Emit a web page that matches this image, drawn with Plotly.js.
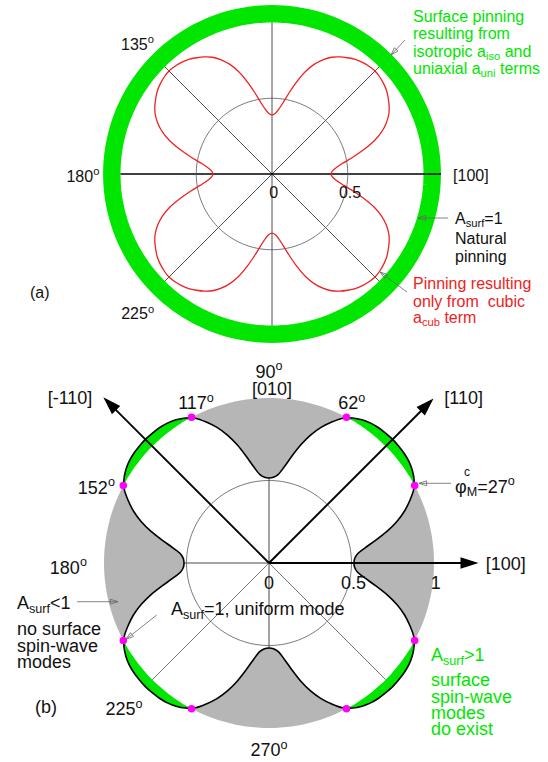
<!DOCTYPE html>
<html>
<head>
<meta charset="utf-8">
<script src="https://cdn.plot.ly/plotly-3.0.1.min.js"></script>
<style>html,body{margin:0;padding:0;background:#fff}#chart{width:548px;height:762px}</style>
</head>
<body>
<div id="chart"></div>
<script>
// ---------------- DATA ----------------
// Angles of one quadrant (degrees); the patterns have four-fold symmetry
const quadTheta = [0,3,6,9,12,15,18,21,24,27,30,33,36,39,42,45,48,51,54,57,60,63,66,69,72,75,78,81,84,87,90];
// (a) pinning resulting only from cubic a_cub term (red curve)
const cubicPinningR = [0.39,0.40,0.43,0.48,0.55,0.63,0.71,0.775,0.825,0.865,0.893,0.915,0.935,0.948,0.957,0.962,
                       0.957,0.948,0.935,0.915,0.893,0.865,0.825,0.775,0.71,0.63,0.55,0.48,0.43,0.40,0.39];
// (b) surface pinning parameter A_surf (black curve)
const aSurfR = [0.515,0.52,0.54,0.59,0.66,0.74,0.815,0.88,0.935,0.985,1.015,1.035,1.048,1.055,1.058,1.06,
                1.058,1.055,1.048,1.035,1.015,0.985,0.935,0.88,0.815,0.74,0.66,0.59,0.54,0.52,0.515];
// (b) angles where A_surf = 1 (magenta points)
const crossingTheta = [28,62,118,152,208,242,298,332];
// natural pinning level and ring of isotropic + uniaxial pinning in (a)
const naturalPinning = 1;
const ringOuter = 1.115;
// crystal directions in (b)
const dirLabels = ['[100]','[110]','[-110]'];
const dirTheta = [0,45,135];
const dirLength = [1.27,1.41,1.42];

// ---------------- GEOMETRY ----------------
const W = 548, H = 762;
const A = {cx: 272, cy: 174, unit: 151.5};
const B = {cx: 269, cy: 563, unit: 165};
const deg = Math.PI/180;
const X = (r,t) => r*Math.cos(t*deg);
const Y = (r,t) => r*Math.sin(t*deg);
function fullTurn(vals){
  const th=[], rr=[];
  for(let q=0;q<4;q++) for(let i=0;i<quadTheta.length-1;i++){th.push(q*90+quadTheta[i]); rr.push(vals[i]);}
  th.push(360); rr.push(vals[0]);
  return {th, rr};
}
function cart(th, rr){ return {x: rr.map((r,i)=>X(r,th[i])), y: rr.map((r,i)=>Y(r,th[i]))}; }
function circle(r){ const x=[],y=[]; for(let t=0;t<=360;t+=2){x.push(X(r,t));y.push(Y(r,t));} return {x,y}; }
function segs(list){ const x=[],y=[]; list.forEach(s=>{x.push(X(s[0],s[1]),X(s[2],s[3]),null);y.push(Y(s[0],s[1]),Y(s[2],s[3]),null);}); return {x,y}; }
const FONT = 'Liberation Sans, Arial, Helvetica, sans-serif';
const GREEN = '#00e600', RED = '#ee2222';

const traces = [];
// ---------- panel (a) ----------
const ringMid = (naturalPinning+ringOuter)/2;
const ring = circle(ringMid);
traces.push({type:'scatter', mode:'lines', x:ring.x, y:ring.y, xaxis:'x', yaxis:'y',
  line:{color:GREEN, width:(ringOuter-naturalPinning)*A.unit, simplify:false}, hoverinfo:'skip'});
const spA = segs([[naturalPinning,90,naturalPinning,270],[naturalPinning,45,naturalPinning,225],[naturalPinning,135,naturalPinning,315]]);
traces.push({type:'scatter', mode:'lines', x:spA.x, y:spA.y, xaxis:'x', yaxis:'y', line:{color:'#222', width:0.8}});
const hA = segs([[naturalPinning,180,ringOuter,0]]);
traces.push({type:'scatter', mode:'lines', x:hA.x, y:hA.y, xaxis:'x', yaxis:'y', line:{color:'#000', width:1.3}});
const cA = circle(0.5);
traces.push({type:'scatter', mode:'lines', x:cA.x, y:cA.y, xaxis:'x', yaxis:'y', line:{color:'#555', width:0.8, simplify:false}});
const red = fullTurn(cubicPinningR); const redXY = cart(red.th, red.rr);
traces.push({type:'scatter', mode:'lines', x:redXY.x, y:redXY.y, xaxis:'x', yaxis:'y',
  line:{color:RED, width:1.3, shape:'spline', smoothing:0.8, simplify:false}});
// labels (a): [r, theta, text, extra downward shift in px]
const labA = [[1.245,135.5,'135<sup>o</sup>',4],[1.248,180,'180<sup>o</sup>',4],[1.254,225,'225<sup>o</sup>',7],
              [1.313,0,'[100]',3],[0.111,-84,'0',3],[0.527,-12.1,'0.5',3]];
traces.push({type:'scatter', mode:'text', xaxis:'x', yaxis:'y',
  x: labA.map(l=>X(l[0],l[1])), y: labA.map(l=>Y(l[0],l[1])-l[3]/A.unit), text: labA.map(l=>l[2]),
  textposition:'middle center', textfont:{family:FONT, size:16, color:'#111'}});

// ---------- panel (b) ----------
const disc = circle(1);
traces.push({type:'scatter', mode:'lines', x:disc.x, y:disc.y, xaxis:'x2', yaxis:'y2', fill:'toself',
  fillcolor:'#b6b6b6', line:{width:0, color:'#b6b6b6', simplify:false}});
const blk = fullTurn(aSurfR); const blkXY = cart(blk.th, blk.rr);
traces.push({type:'scatter', mode:'lines', x:blkXY.x, y:blkXY.y, xaxis:'x2', yaxis:'y2', fill:'toself',
  fillcolor:GREEN, line:{width:0, color:GREEN, shape:'spline', smoothing:0.8, simplify:false}});
const inner = cart(blk.th, blk.rr.map(r=>Math.min(r,1)));
traces.push({type:'scatter', mode:'lines', x:inner.x, y:inner.y, xaxis:'x2', yaxis:'y2', fill:'toself',
  fillcolor:'#ffffff', line:{width:0, color:'#ffffff', shape:'spline', smoothing:0.8, simplify:false}});
const rEnd = t => Math.min(aSurfR[quadTheta.indexOf(((t%90)+90)%90)], 1);
const spB1 = segs([[0,180,rEnd(180),180],[rEnd(90),90,rEnd(270),270]]);
traces.push({type:'scatter', mode:'lines', x:spB1.x, y:spB1.y, xaxis:'x2', yaxis:'y2', line:{color:'#333', width:0.9}});
const spB2 = segs([[0,225,rEnd(225),225],[0,315,rEnd(315),315]]);
traces.push({type:'scatter', mode:'lines', x:spB2.x, y:spB2.y, xaxis:'x2', yaxis:'y2', line:{color:'#666', width:0.9}});
const cB = circle(0.5);
traces.push({type:'scatter', mode:'lines', x:cB.x, y:cB.y, xaxis:'x2', yaxis:'y2', line:{color:'#555', width:0.8, simplify:false}});
traces.push({type:'scatter', mode:'lines', x:blkXY.x, y:blkXY.y, xaxis:'x2', yaxis:'y2',
  line:{color:'#000', width:1.6, shape:'spline', smoothing:0.8, simplify:false}});
// crystal direction arrows
const arr = segs(dirTheta.map((t,i)=>[0,t,dirLength[i]-0.03,t]));
traces.push({type:'scatter', mode:'lines', x:arr.x, y:arr.y, xaxis:'x2', yaxis:'y2', line:{color:'#000', width:1.9}});
traces.push({type:'scatter', mode:'markers', xaxis:'x2', yaxis:'y2',
  x: dirTheta.map((t,i)=>X(dirLength[i],t)), y: dirTheta.map((t,i)=>Y(dirLength[i],t)),
  marker:{symbol:'arrow', size:19, color:'#000', angle: dirTheta.map(t=>90-t), line:{width:0}}});
// A_surf = 1 points
traces.push({type:'scatter', mode:'markers', xaxis:'x2', yaxis:'y2',
  x: crossingTheta.map(t=>X(1,t)), y: crossingTheta.map(t=>Y(1,t)),
  marker:{size:7.5, color:'#ff00ff', line:{width:0}}});
// labels (b): [r, theta, text, extra downward shift in px]
const labB = [[1.21,90,'90<sup>o</sup>',10],[1.079,89,'[010]',6],[1.079,114.2,'117<sup>o</sup>',4],[1.104,63,'62<sup>o</sup>',4],
  [1.572,140.1,dirLabels[2],3],[1.552,40.5,dirLabels[1],3],[1.148,155.7,'152<sup>o</sup>',4],[1.216,180.6,'180<sup>o</sup>',4],
  [1.435,0,dirLabels[0],2],[0.113,-90,'0',3],[0.524,-12.5,'0.5',3],[1.017,-6.4,'1',3],[1.237,224.7,'225<sup>o</sup>',4],[1.113,270,'270<sup>o</sup>',5]];
traces.push({type:'scatter', mode:'text', xaxis:'x2', yaxis:'y2',
  x: labB.map(l=>X(l[0],l[1])), y: labB.map(l=>Y(l[0],l[1])-l[3]/B.unit), text: labB.map(l=>l[2]),
  textposition:'middle center', textfont:{family:FONT, size:18, color:'#111'}});

// pointer arrows (pixel positions tail -> head), drawn on the full-page axes of (b)
const pointers = [[405,40,391,55],[448,218,418,218],[407,292,380,272],
                  [451,483.3,419,483.3],[77,601.7,118,601.7],[156.7,615,126,639.3]];
const dx = p => (p - B.cx)/B.unit, dy = p => (B.cy - p)/B.unit;
const pl = {x:[], y:[]};
pointers.forEach(p=>{pl.x.push(dx(p[0]),dx(p[2]),null); pl.y.push(dy(p[1]),dy(p[3]),null);});
traces.push({type:'scatter', mode:'lines', x:pl.x, y:pl.y, xaxis:'x2', yaxis:'y2', line:{color:'#666', width:0.8}});
traces.push({type:'scatter', mode:'markers', xaxis:'x2', yaxis:'y2',
  x: pointers.map(p=>dx(p[2])), y: pointers.map(p=>dy(p[3])),
  marker:{symbol:'arrow-open', size:8, color:'#666', line:{width:0.8, color:'#666'},
          angle: pointers.map(p=>Math.atan2(p[2]-p[0], -(p[3]-p[1]))/deg)}});

// ---------------- TEXT BLOCKS (paper, pixel positions) ----------------
const px = x => x/W, py = y => 1 - y/H;
const ann = [];
function txt(x,y,text,size,color,anchor){ ann.push({xref:'paper',yref:'paper',x:px(x),y:py(y),text,showarrow:false,
  xanchor:anchor||'left',yanchor:'middle',font:{family:FONT,size,color}}); }
// (a)
txt(410.7,16.7,'Surface pinning',16,GREEN);
txt(410.7,33.3,'resulting from',16,GREEN);
txt(410.7,52,'isotropic a<sub>iso</sub> and',16,GREEN);
txt(410.7,69.5,'uniaxial a<sub>uni</sub> terms',16,GREEN);
txt(452.7,219.5,'A<sub>surf</sub>=1',16,'#111');
txt(452.7,238.3,'Natural',16,'#111');
txt(452.7,256,'pinning',16,'#111');
txt(410.7,283.3,'Pinning resulting',16,RED);
txt(410.7,301,'only from\u00a0 cubic',16,RED);
txt(410.7,318.5,'a<sub>cub</sub> term',16,RED);
txt(39.5,292.5,'(a)',16,'#111','center');
// (b)
txt(14.7,604.5,'A<sub>surf</sub>&lt;1',18,'#111');
txt(14.7,629.3,'no surface',18,'#111');
txt(14.7,646,'spin-wave',18,'#111');
txt(14.7,662.3,'modes',18,'#111');
txt(428.8,656.2,'A<sub>surf</sub>&gt;1',18,GREEN);
txt(428.8,680,'surface',18,GREEN);
txt(428.8,696.7,'spin-wave',18,GREEN);
txt(428.8,713.3,'modes',18,GREEN);
txt(428.8,729.3,'do exist',18,GREEN);
txt(453,486,'φ<sub>M</sub>=27<sup>o</sup>',18,'#111');
txt(467,472,'c',12,'#111','center');
txt(45.5,707,'(b)',18,'#111','center');
txt(169,610.5,'A<sub>surf</sub>=1, uniform mode',18,'#111');

const ax = r => ({range:r, autorange:false, visible:false, showgrid:false, zeroline:false, fixedrange:true});
const layout = {
  width:W, height:H, margin:{l:0,r:0,t:0,b:0}, paper_bgcolor:'#fff', plot_bgcolor:'rgba(0,0,0,0)',
  showlegend:false, hovermode:false, annotations:ann,
  xaxis: Object.assign(ax([-A.cx/A.unit,(W-A.cx)/A.unit]),{domain:[0,1]}),
  yaxis: Object.assign(ax([-(H-A.cy)/A.unit,A.cy/A.unit]),{domain:[0,1]}),
  xaxis2: Object.assign(ax([-B.cx/B.unit,(W-B.cx)/B.unit]),{overlaying:'x', anchor:'y2'}),
  yaxis2: Object.assign(ax([-(H-B.cy)/B.unit,B.cy/B.unit]),{overlaying:'y', anchor:'x2'})
};
Plotly.newPlot('chart', traces, layout, {staticPlot:true, displayModeBar:false});
</script>
</body>
</html>
